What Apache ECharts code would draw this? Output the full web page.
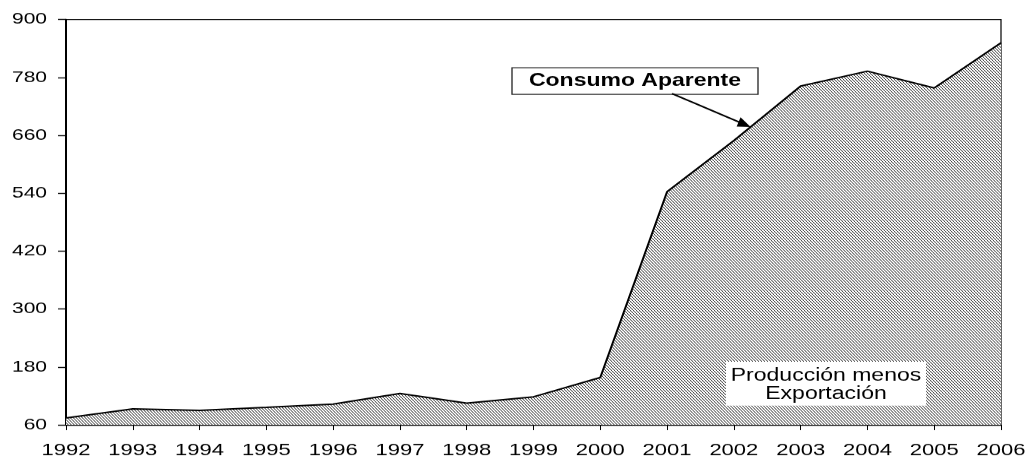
<!DOCTYPE html>
<html>
<head>
<meta charset="utf-8">
<script src="https://cdn.jsdelivr.net/npm/echarts@6/dist/echarts.min.js"></script>
<style>
  html, body { margin: 0; padding: 0; background: #fff; overflow: hidden; }
  #wrap { width: 1033px; height: 459px; overflow: hidden; }
  #c { width: 1033px; transform-origin: 0 0; }
</style>
</head>
<body>
<div id="wrap"><div id="c"></div></div>
<script>
// Consumo aparente (producción menos exportación), 1992-2006
const years = ['1992', '1993', '1994', '1995', '1996', '1997', '1998', '1999',
               '2000', '2001', '2002', '2003', '2004', '2005', '2006'];
const consumo = [74, 93, 90, 96, 103, 125, 105, 118, 158, 543, 649, 762, 793, 758, 852];
const yTicks = [60, 180, 300, 420, 540, 660, 780, 900];
const calloutText = 'Consumo Aparente';
const areaText = 'Producción menos\nExportación';

// The chart is laid out on a taller canvas and squeezed vertically,
// which gives the wide, flat lettering of the printed figure.
const H = 604;
const S = 459 / H;
const fy = y => y / S;
const el = document.getElementById('c');
el.style.height = H + 'px';
el.style.transform = 'scaleY(' + S + ')';

const FONT = '"Liberation Sans", Arial, sans-serif';

// diagonal hatch fill
function hatch() {
  const w = 3, h = 4;
  const cv = document.createElement('canvas');
  cv.width = w; cv.height = h;
  const ctx = cv.getContext('2d');
  ctx.fillStyle = '#ffffff';
  ctx.fillRect(0, 0, w, h);
  ctx.strokeStyle = '#1a1a1a';
  ctx.lineWidth = 0.9;
  for (let k = -1; k <= 1; k++) {
    ctx.beginPath();
    ctx.moveTo(k * w, k * h);
    ctx.lineTo(k * w + w, k * h + h);
    ctx.stroke();
  }
  return cv;
}

const chart = echarts.init(el, null, { renderer: 'canvas' });

const option = {
  animation: false,
  backgroundColor: '#ffffff',
  grid: {
    show: true,
    left: 66,
    right: 32,
    top: fy(19.5),
    bottom: H - fy(426),
    borderColor: '#000',
    borderWidth: 1.2,
    backgroundColor: 'transparent'
  },
  xAxis: {
    type: 'category',
    data: years,
    boundaryGap: false,
    axisLine: { show: true, lineStyle: { color: '#000', width: 1.4 } },
    axisTick: { show: true, inside: false, length: 7, lineStyle: { color: '#000', width: 1 } },
    axisLabel: { color: '#000', fontFamily: FONT, fontSize: 22, margin: fy(17.5) },
    splitLine: { show: false }
  },
  yAxis: {
    type: 'value',
    min: yTicks[0],
    max: yTicks[yTicks.length - 1],
    axisLine: { show: true, lineStyle: { color: '#000', width: 2 } },
    axisTick: { show: true, inside: false, length: 8, customValues: yTicks,
                lineStyle: { color: '#000', width: 1.4 } },
    axisLabel: { color: '#000', fontFamily: FONT, fontSize: 21, margin: 19,
                 customValues: yTicks },
    splitLine: { show: false }
  },
  series: [{
    name: calloutText,
    type: 'line',
    data: consumo,
    symbol: 'none',
    silent: true,
    lineStyle: { color: '#000', width: 2 },
    areaStyle: { origin: 'start', opacity: 1, color: { image: hatch(), repeat: 'repeat' } },
    z: 2
  }]
};

chart.setOption(option);

// callout arrow ends on the line a quarter of the way from 2002 to 2003
const p0 = chart.convertToPixel({ seriesIndex: 0 }, ['2002', consumo[years.indexOf('2002')]]);
const p1 = chart.convertToPixel({ seriesIndex: 0 }, ['2003', consumo[years.indexOf('2003')]]);
const t = 0.25;
const tip = [p0[0] + (p1[0] - p0[0]) * t, p0[1] + (p1[1] - p0[1]) * t];
const start = [672, fy(93.5)];

// arrowhead drawn in final (squeezed) space, then stretched back
const dx = tip[0] - start[0], dyF = (tip[1] - start[1]) * S;
const len = Math.hypot(dx, dyF);
const ux = dx / len, uy = dyF / len;
const headL = 13, headW = 5;
const baseF = [tip[0] - ux * headL, tip[1] * S - uy * headL];
const left = [baseF[0] - uy * headW, (baseF[1] + ux * headW) / S];
const right = [baseF[0] + uy * headW, (baseF[1] - ux * headW) / S];
const shaftEnd = [tip[0] - ux * (headL - 2), (tip[1] * S - uy * (headL - 2)) / S];

chart.setOption({
  graphic: [
    {
      type: 'rect', z: 10,
      shape: { x: 512, y: fy(67.7), width: 246, height: fy(94.3) - fy(67.7) },
      style: { fill: '#fff', stroke: '#222', lineWidth: 1.3 }
    },
    {
      type: 'text', z: 11,
      x: 635, y: fy(81.2),
      style: { text: calloutText, fill: '#000', font: 'bold 23px ' + FONT,
               align: 'center', verticalAlign: 'middle' }
    },
    {
      type: 'line', z: 10,
      shape: { x1: start[0], y1: start[1], x2: shaftEnd[0], y2: shaftEnd[1] },
      style: { stroke: '#000', lineWidth: 2 }
    },
    {
      type: 'polygon', z: 10,
      shape: { points: [tip, left, right] },
      style: { fill: '#000' }
    },
    {
      type: 'rect', z: 10,
      shape: { x: 726, y: fy(361.7), width: 200, height: fy(405.7) - fy(361.7) },
      style: { fill: '#fff' }
    },
    {
      type: 'text', z: 11,
      x: 826, y: fy(384.9),
      style: { text: areaText, fill: '#000', font: '23px ' + FONT,
               align: 'center', verticalAlign: 'middle', lineHeight: fy(18.3) }
    }
  ]
});
</script>
</body>
</html>
